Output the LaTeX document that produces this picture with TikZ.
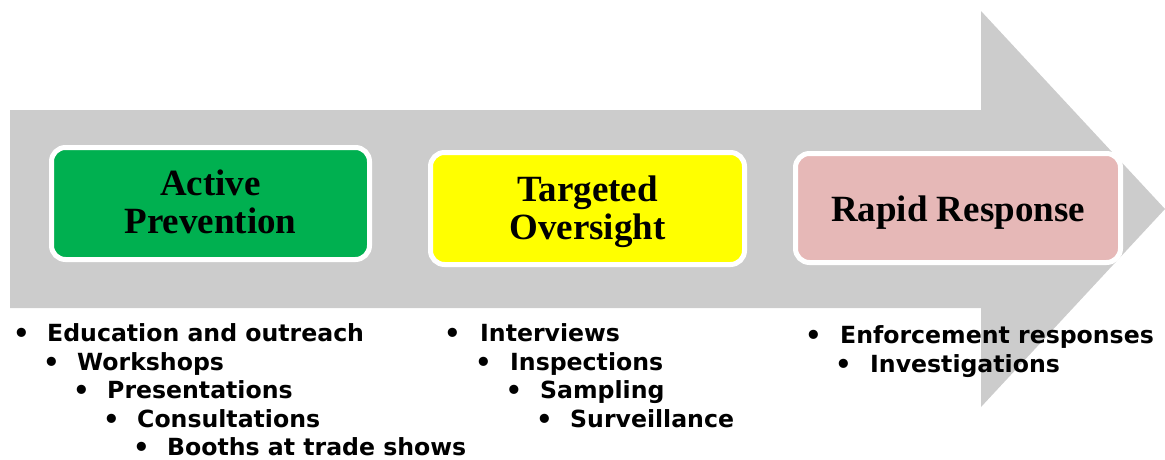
\documentclass[tikz,border=0pt]{standalone}
\usepackage{fontspec}
\setmainfont{Liberation Serif}
\newfontfamily\bodyfont{DejaVu Sans}
\definecolor{arrowgray}{HTML}{CCCCCC}
\definecolor{boxgreen}{HTML}{00B050}
\definecolor{boxyellow}{HTML}{FFFF00}
\definecolor{boxpink}{HTML}{E6B8B7}
\tikzset{
  stagebox/.style={draw=white, line width=5pt, rounded corners=14pt, fill=#1, inner sep=0pt},
  ttl/.style={anchor=base, inner sep=0pt, font=\fontsize{37}{38}\selectfont\bfseries},
  bul/.style={anchor=base, inner sep=0pt, yshift=-1pt, font=\bodyfont\bfseries\fontsize{26}{28}\selectfont},
  itm/.style={anchor=base west, inner sep=0pt, font=\bodyfont\bfseries\fontsize{23.6}{28}\selectfont},
}
\newcommand\litem[5]{%
  \node[bul] (#1b) at (#2,#4) {•};
  \node[itm] (#1) at (#3,#4) {#5};
}
\begin{document}
\begin{tikzpicture}[x=1pt,y=-1pt]
\useasboundingbox (0,0) rectangle (1165,459);
% big arrow
\fill[arrowgray] (10,110) -- (981,110) -- (981,11) -- (1165,209) -- (981,407) -- (981,308) -- (10,308) -- cycle;
% stage boxes
\node[stagebox=boxgreen, minimum width=318pt, minimum height=112pt] (ap) at (210.5,203.5) {};
\node[stagebox=boxyellow, minimum width=314pt, minimum height=112pt] (to) at (587.5,208.5) {};
\node[stagebox=boxpink, minimum width=325pt, minimum height=109pt] (rr) at (958,208) {};
% titles
\node[ttl] (ap1) at (210.5,195) {Active};
\node[ttl] (ap2) at (210.5,233) {Prevention};
\node[ttl] (to1) at (587.5,201) {Targeted};
\node[ttl] (to2) at (587.5,239) {Oversight};
\node[ttl] (rr1) at (958,221) {Rapid Response};
% left list
\litem{l1}{21.5}{47}{341.5}{Education and outreach}
\litem{l2}{51.5}{77}{370}{Workshops}
\litem{l3}{81.5}{107}{398.5}{Presentations}
\litem{l4}{111.5}{137}{427}{Consultations}
\litem{l5}{141.5}{167}{455.5}{Booths at trade shows}
% middle list
\litem{m1}{452.5}{480}{341.5}{Interviews}
\litem{m2}{483.5}{510}{370}{Inspections}
\litem{m3}{514}{540}{398.5}{Sampling}
\litem{m4}{544.5}{570}{427}{Surveillance}
% right list
\litem{r1}{813.5}{840}{343.5}{Enforcement responses}
\litem{r2}{843.5}{870}{372}{Investigations}
\end{tikzpicture}
\end{document}
